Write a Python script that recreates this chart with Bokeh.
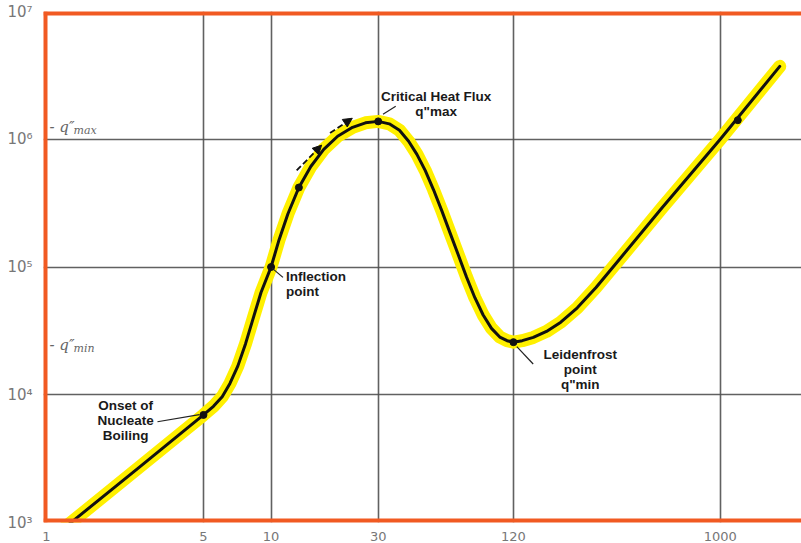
from bokeh.plotting import figure
from bokeh.models import (ColumnDataSource, FixedTicker, Span, Label, Arrow,
                          NormalHead)
from bokeh.core.properties import value
from bokeh.embed import file_html
from bokeh.resources import INLINE

# Boiling curve: wall superheat (K) vs heat flux (W/m^2)
delta_t = [1.21, 2.57, 5.0, 5.54, 6.06, 6.56, 7.11, 7.70, 8.33, 9.02, 10.0,
           10.85, 11.89, 13.3, 15.03, 17.16, 19.79, 23.06, 26.33, 30.0,
           33.6, 37.3, 40.97, 44.6, 48.55, 52.84, 57.54, 62.64, 68.2, 74.23,
           80.8, 87.96, 95.8, 104.3, 112.4, 120.0, 131.3, 147.1, 168.4,
           195.0, 230.9, 279.8, 350.7, 550.8, 1000.0, 1840.0]
heat_flux = [916, 2680, 6950, 8125, 9660, 12250, 16750, 25100, 39800, 63100,
             100000, 163000, 261000, 419000, 612000, 834000, 1055000,
             1240000, 1345000, 1380000, 1320000, 1176000, 964000, 762000,
             570000, 404000, 276000, 185000, 124300, 83200, 57500, 42100,
             33100, 28300, 26500, 25800, 26500, 28100, 31300, 37000, 47900,
             69200, 111500, 291000, 1000000, 3720000]

# Marked points on the curve
mark_t = [5.0, 10.0, 13.3, 30.0, 120.0, 1197.0]
mark_q = [6950, 100000, 419000, 1380000, 25800, 1410000]

# Axis ticks
x_ticks = [1, 5, 10, 30, 120, 1000]
x_grid = [5, 10, 30, 120, 1000]
y_ticks = [1e3, 1e4, 1e5, 1e6, 1e7]
y_grid = [1e4, 1e5, 1e6]
y_tick_labels = ["10³", "10⁴", "10⁵", "10⁶", "10⁷"]
q_max_mark = 1.24e6
q_min_mark = 2.43e4

# Annotation texts
notes = ["Onset of\nNucleate\nBoiling", "Inflection\npoint",
         "Critical Heat Flux\nq\"max", "Leidenfrost\npoint\nq\"min"]

X0, X1 = 0.97, 2300
Y0, Y1 = 1e3, 1e7
ORANGE = "#F15A22"

p = figure(width=801, height=543, x_axis_type="log", y_axis_type="log",
           x_range=(X0, X1), y_range=(Y0, Y1), output_backend="svg",
           toolbar_location=None, min_border_left=43, min_border_right=0,
           min_border_top=11, min_border_bottom=18)
p.outline_line_color = None
p.background_fill_color = "white"
p.border_fill_color = "white"

# axes
p.xaxis.ticker = FixedTicker(ticks=x_ticks)
p.xaxis.major_label_overrides = {t: str(t) for t in x_ticks}
p.yaxis.ticker = FixedTicker(ticks=y_ticks)
p.yaxis.major_label_overrides = {int(t): s for t, s in zip(y_ticks, y_tick_labels)}
for ax in (p.xaxis, p.yaxis):
    ax.axis_line_color = None
    ax.major_tick_line_color = None
    ax.minor_tick_line_color = None
    ax.major_label_text_color = "#777777"
    ax.major_label_text_font = "DejaVu Sans"
p.xaxis.major_label_text_font_size = "13px"
p.xaxis.major_label_standoff = 3
p.yaxis.major_label_text_font_size = "15px"
p.yaxis.major_label_standoff = 5

# grid
p.xgrid.ticker = FixedTicker(ticks=x_grid)
p.ygrid.ticker = FixedTicker(ticks=y_grid)
for g in (p.xgrid, p.ygrid):
    g.grid_line_color = "#505050"
    g.grid_line_width = 1.6
    g.grid_line_alpha = 0.9
    g.minor_grid_line_color = None

# curve: yellow highlight under a black line
src = ColumnDataSource(dict(t=delta_t, q=heat_flux))
p.line("t", "q", source=src, line_color="#FFF000", line_width=13,
       line_join="round", line_cap="round")
p.line("t", "q", source=src, line_color="#111111", line_width=3,
       line_join="round", line_cap="round")
p.scatter(mark_t, mark_q, size=7, color="#111111")

# direction arrows above the nucleate branch
for (xs, ys, xe, ye) in [(13.0, 5.7e5, 16.8, 9.0e5),
                         (18.3, 1.12e6, 23.0, 1.46e6)]:
    p.add_layout(Arrow(end=NormalHead(size=9, fill_color="#111111",
                                      line_color="#111111"),
                       x_start=xs, y_start=ys, x_end=xe, y_end=ye,
                       line_width=1.8, line_color="#111111", line_dash="6 3"))

# leader lines
p.segment(x0=[3.12, 10.1, 31.5, 124.2], y0=[6150, 98000, 1.57e6, 2.38e4],
          x1=[4.8, 11.3, 35.9, 146.9], y1=[7000, 83000, 1.81e6, 1.74e4],
          line_color="#222222", line_width=1.2)

# annotation texts
note_style = dict(text_baseline="middle", text_font=value("Liberation Sans"),
                  text_font_style="bold", text_font_size="13.5px",
                  text_color="#1a1a1a", text_line_height=1.0)
p.text(x=[2.25], y=[6270], text=[notes[0]], text_align="center", **note_style)
p.text(x=[11.65], y=[73000], text=[notes[1]], text_align="left", **note_style)
p.text(x=[54.3], y=[1.88e6], text=[notes[2]], text_align="center", **note_style)
p.text(x=[238], y=[1.585e4], text=[notes[3]], text_align="center", **note_style)

# q''max / q''min marks on the left edge
for yv, sub in [(q_max_mark, "max"), (q_min_mark, "min")]:
    p.add_layout(Label(x=X0, y=yv, x_offset=6, text="- q″",
                       text_font="DejaVu Serif", text_font_style="italic",
                       text_font_size="15px", text_color="#666666",
                       text_baseline="middle"))
    p.add_layout(Label(x=X0, y=yv, x_offset=30, y_offset=-3, text=sub,
                       text_font="DejaVu Serif", text_font_style="italic",
                       text_font_size="11px", text_color="#666666",
                       text_baseline="middle"))

# orange frame on the left, top and bottom
p.add_layout(Span(location=X0, dimension="height", line_color=ORANGE,
                  line_width=8))
p.add_layout(Span(location=Y1, dimension="width", line_color=ORANGE,
                  line_width=8))
p.add_layout(Span(location=Y0, dimension="width", line_color=ORANGE,
                  line_width=8))

open("out.html", "w").write(file_html(p, INLINE))
